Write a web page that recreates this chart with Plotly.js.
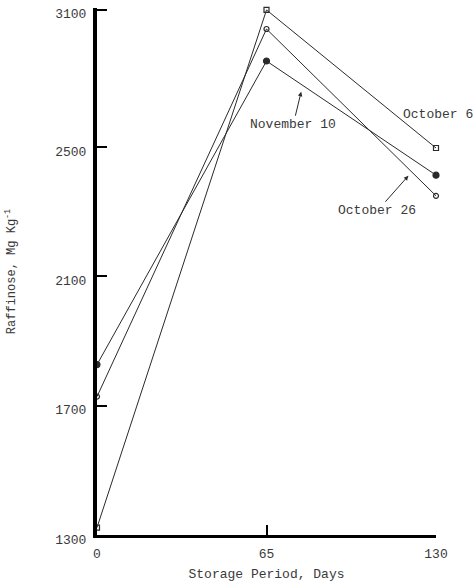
<!DOCTYPE html>
<html>
<head>
<meta charset="utf-8">
<script src="https://cdn.plot.ly/plotly-3.0.1.min.js"></script>
<style>html,body{margin:0;padding:0;background:#fff;}#chart{width:475px;height:583px;}</style>
</head>
<body>
<div id="chart"></div>
<script>
// Storage period (days)
const days = [0, 65, 130];
// Raffinose, mg/kg (linear scale of the lower ticks)
const october6 = [1323, 2924, 2497];
const october26 = [1728, 2865, 2349];
const november10 = [1827, 2766, 2413];
// Tick values and their printed labels
const yTickVals = [1300, 1700, 2100, 2500, 2925];
const yTickText = ['1300', '1700', '2100', '2500', '3100'];
const xTickVals = [0, 65, 130];
const xTickText = ['0', '65', '130'];
// Label annotations: text, anchor x, anchor y
const labelNames = ['October 6', 'November 10', 'October 26'];
const labelX = [130, 78.3, 119.4];
const labelY = [2602, 2671, 2411];

const FONT = 'Liberation Mono, Courier New, monospace';
const INK = '#2a2a2a';
const TXT = '#3a3a3a';

const mk = (y, name, symbol, size) => ({
  x: days, y: y, name: name, type: 'scatter', mode: 'lines+markers',
  cliponaxis: false,
  line: {color: INK, width: 1},
  marker: {symbol: symbol, size: size, color: INK, line: {color: INK, width: 1.2}}
});

const data = [
  mk(october6, 'October 6', 'square-open', 5),
  mk(october26, 'October 26', 'circle-open', 5),
  mk(november10, 'November 10', 'circle', 6)
];

const annotations = [
  {x: labelX[0], y: labelY[0], xref: 'x', yref: 'y', text: labelNames[0], showarrow: false,
   xanchor: 'center', xshift: 2,
   font: {family: FONT, size: 13, color: TXT}},
  {x: labelX[1], y: labelY[1], xref: 'x', yref: 'y', text: labelNames[1], showarrow: true,
   ax: -8, ay: 33, arrowhead: 2, arrowsize: 0.9, arrowwidth: 1, arrowcolor: INK,
   font: {family: FONT, size: 13, color: TXT}},
  {x: labelX[2], y: labelY[2], xref: 'x', yref: 'y', text: labelNames[2], showarrow: true,
   ax: -31, ay: 35, arrowhead: 2, arrowsize: 0.9, arrowwidth: 1, arrowcolor: INK,
   font: {family: FONT, size: 13, color: TXT}}
];

const layout = {
  width: 475, height: 583,
  margin: {l: 97, r: 39, t: 8, b: 48},
  paper_bgcolor: '#fff', plot_bgcolor: '#fff',
  showlegend: false,
  font: {family: FONT, size: 13, color: TXT},
  xaxis: {
    range: [0, 130], showgrid: false, zeroline: false,
    showline: true, linecolor: '#000', linewidth: 3,
    ticks: 'inside', ticklen: 10, tickwidth: 2, tickcolor: '#000',
    tickvals: xTickVals, ticktext: xTickText,
    ticklabelstandoff: 4, ticklabeloverflow: 'allow',
    tickfont: {family: FONT, size: 13, color: TXT},
    title: {text: 'Storage Period, Days', font: {family: FONT, size: 13, color: TXT}, standoff: 9}
  },
  yaxis: {
    range: [1300, 2930], showgrid: false, zeroline: false,
    showline: true, linecolor: '#000', linewidth: 4,
    ticks: 'inside', ticklen: 10, tickwidth: 2, tickcolor: '#000',
    tickvals: yTickVals, ticktext: yTickText,
    ticklabelshift: 4, ticklabelstandoff: 4, ticklabeloverflow: 'allow',
    tickfont: {family: FONT, size: 13, color: TXT},
    title: {text: 'Raffinose, Mg Kg<sup>-1</sup>', font: {family: FONT, size: 12, color: TXT}, standoff: 38}
  },
  annotations: annotations
};

Plotly.newPlot('chart', data, layout, {displayModeBar: false, staticPlot: true});
</script>
</body>
</html>
